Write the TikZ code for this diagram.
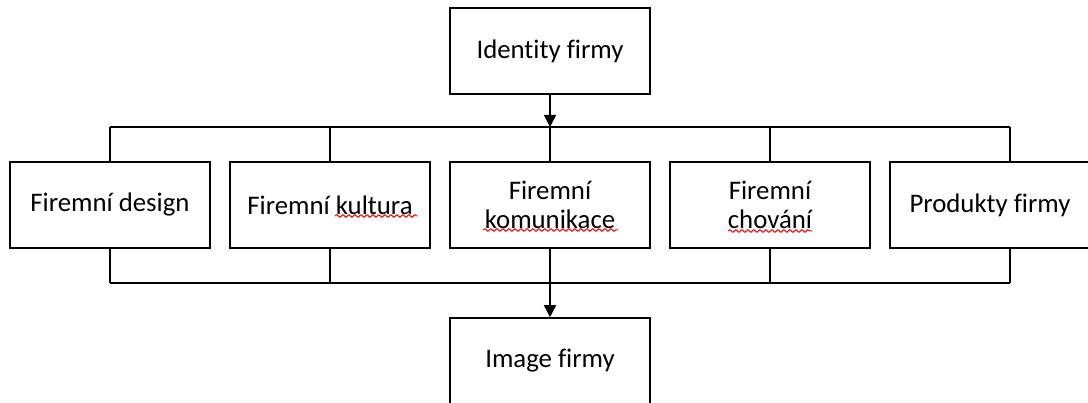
\documentclass[tikz,border=0pt]{standalone}
\usepackage{fontspec}
\setmainfont{Carlito}[Ligatures=NoCommon]
\usetikzlibrary{arrows.meta,decorations.pathmorphing}
\begin{document}
\begin{tikzpicture}[x=1pt,y=-1pt,
  box/.style={draw=black,line width=1.6pt,minimum width=200pt,minimum height=86pt,inner sep=0pt,align=center,font=\fontsize{26.8}{29}\selectfont},
  conn/.style={line width=1.6pt,draw=black},
  arr/.style={conn,-{Triangle[length=12pt,width=12pt]}},
  spell/.style={draw=red,line width=1pt,decorate,decoration={snake,amplitude=1.3pt,segment length=6pt}}]
\useasboundingbox (0,0) rectangle (1088,403);
\begin{scope}
\clip (0,0) rectangle (1088,403);
\node[box] (top) at (550,51) {Identity firmy};
\node[box] (b1) at (110,205) {Firemní design};
\node[box] (b2) at (330,205) {Firemní kultura};
\node[box] (b3) at (550,205) {Firemní\\komunikace};
\node[box] (b4) at (770,205) {Firemní\\chování};
\node[box] (b5) at (990,205) {Produkty firmy};
\node[box] (bot) at (550,361) {\raisebox{-3pt}{Image firmy}};
\coordinate (tl) at (110,127);
\coordinate (tr) at (1010,127);
\coordinate (tm) at (550,127);
\coordinate (bl) at (110,283);
\coordinate (br) at (1010,283);
\coordinate (bm) at (550,283);
\draw[conn] (tl) -- (tr);
\draw[conn] (bl) -- (br);
\draw[arr] (top.south) -- (tm);
\foreach \n in {b1,b2,b3,b4}{
  \draw[conn] (\n.north |- tl) -- (\n.north);
  \draw[conn] (\n.south) -- (\n.south |- bl);
}
\draw[conn] (tr) -- (tr |- b5.north);
\draw[conn] (br) -- (br |- b5.south);
\draw[arr] (bm) -- (bot.north);
\draw[spell] (335,216) -- (417,216);
\draw[spell] (483,230) -- (618,230);
\draw[spell] (728,231) -- (812,231);
\end{scope}
\end{tikzpicture}
\end{document}
